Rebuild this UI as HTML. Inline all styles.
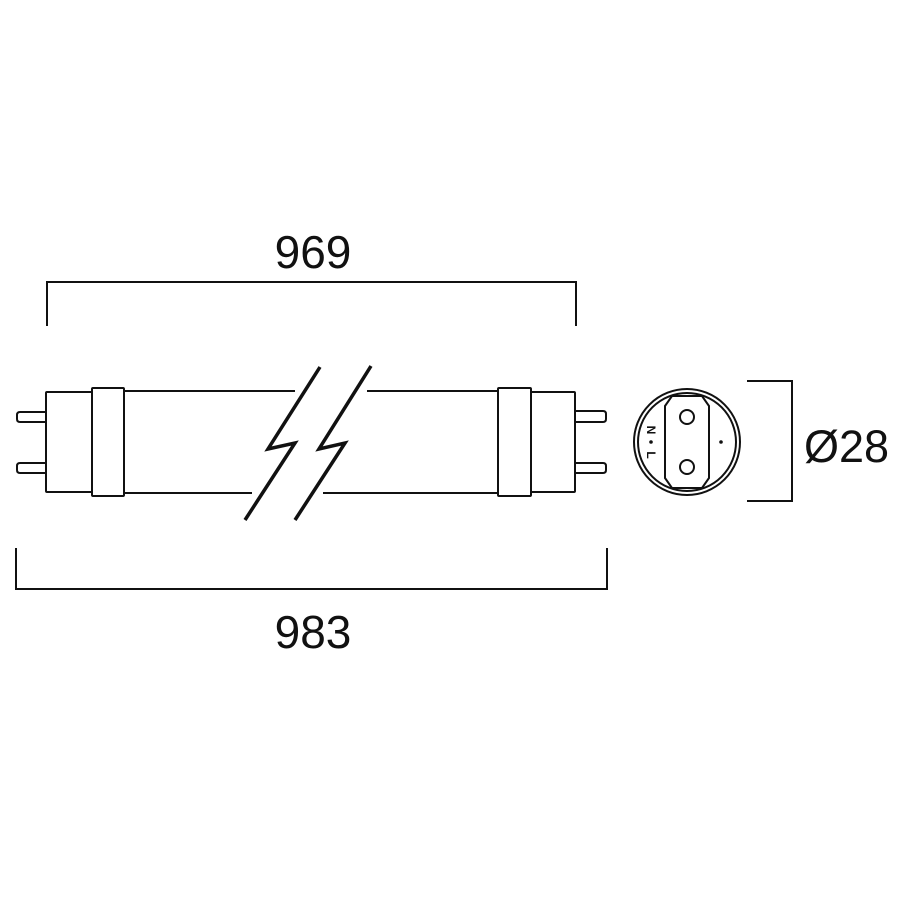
<!DOCTYPE html>
<html><head><meta charset="utf-8"><style>
html,body{margin:0;padding:0;background:#fff;}
svg{display:block;}
text{font-family:"Liberation Sans",sans-serif;fill:#111;}
</style></head><body>
<svg width="900" height="900" viewBox="0 0 900 900" xmlns="http://www.w3.org/2000/svg">
<g fill="none" stroke="#111" stroke-width="2">
<!-- dimension 969 -->
<polyline points="47,326 47,282 576,282 576,326"/>
<!-- dimension 983 -->
<polyline points="16,548 16,589 607,589 607,548"/>
<!-- bracket diameter -->
<polyline points="747,381 792,381 792,501 747,501"/>
<!-- left pins -->
<path d="M46,412 H20 Q17,412 17,415 V419 Q17,422 20,422 H46"/>
<path d="M46,463 H20 Q17,463 17,466 V470 Q17,473 20,473 H46"/>
<!-- left cap -->
<rect x="46" y="392" width="46" height="100" rx="1"/>
<rect x="92" y="388" width="32" height="108" rx="1"/>
<!-- tube lines -->
<line x1="124" y1="391" x2="295" y2="391"/>
<line x1="367" y1="391" x2="498" y2="391"/>
<line x1="124" y1="493" x2="252" y2="493"/>
<line x1="323" y1="493" x2="498" y2="493"/>
<!-- right cap -->
<rect x="498" y="388" width="33" height="108" rx="1"/>
<rect x="531" y="392" width="44" height="100" rx="1"/>
<path d="M575,411 H603 Q606,411 606,414 V419 Q606,422 603,422 H575"/>
<path d="M575,463 H603 Q606,463 606,466 V470 Q606,473 603,473 H575"/>
</g>
<!-- break lines -->
<g fill="none" stroke="#111" stroke-width="3.5" stroke-linejoin="miter">
<polyline points="320,367 268,449 295,443 245,520"/>
<polyline points="371,366 319,449 345,443 295,520"/>
</g>
<!-- end view -->
<g fill="none" stroke="#111" stroke-width="2">
<circle cx="687" cy="442" r="53"/>
<circle cx="687" cy="442" r="49"/>
<path d="M672,396 H702 L709,406 V478 L702,488 H672 L665,478 V406 Z"/>
<circle cx="687" cy="417" r="7"/>
<circle cx="687" cy="467" r="7"/>
</g>
<circle cx="721" cy="442" r="1.8" fill="#111"/>
<circle cx="651" cy="442" r="1.8" fill="#111"/>
<text x="0" y="0" font-size="12" font-weight="bold" transform="translate(647,430) rotate(90)" text-anchor="middle">N</text>
<text x="0" y="0" font-size="12" font-weight="bold" transform="translate(647,455) rotate(90)" text-anchor="middle">L</text>
<!-- labels -->
<text x="313" y="268" font-size="46" text-anchor="middle">969</text>
<text x="313" y="648" font-size="46" text-anchor="middle">983</text>
<text x="804" y="462" font-size="45">Ø28</text>
</svg>
</body></html>
